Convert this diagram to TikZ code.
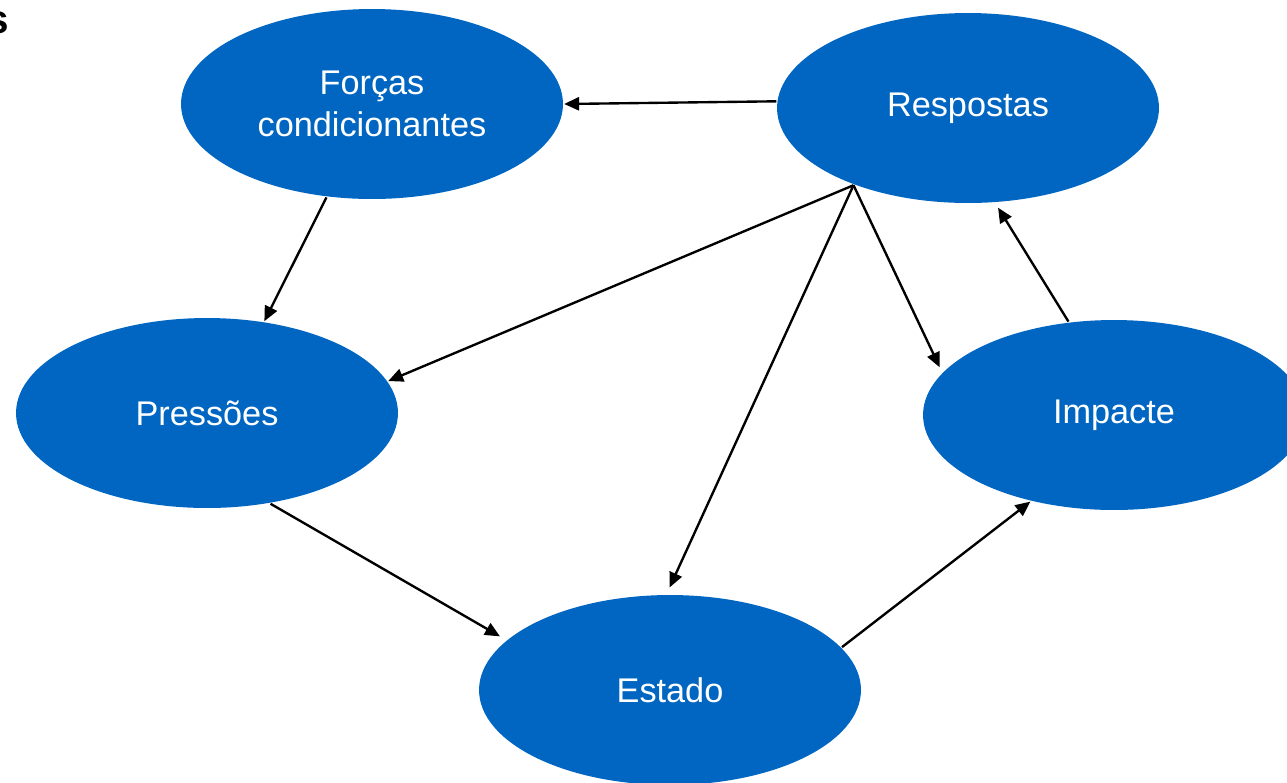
\documentclass[tikz,border=0pt]{standalone}
\usepackage{fontspec}
\setmainfont{Liberation Sans}
\usetikzlibrary{arrows.meta,shapes.geometric}
\definecolor{elblue}{HTML}{0066C2}

\begin{document}
\begin{tikzpicture}[x=0.02cm, y=-0.02cm, ->, >={Triangle[length=8.5pt,width=7.5pt]}, line width=1.35pt]
	\tikzstyle{every node}=[font=\fontsize{19.5}{24}\selectfont]
	\tikzstyle{elem}=[ellipse,fill=elblue,text=white,inner sep=0pt,minimum width=7.64cm,minimum height=3.8cm,align=center]
	\clip (0,0) rectangle (1287,782);
	\node[anchor=base east,text=black,inner sep=0pt,font=\fontsize{23}{28}\bfseries] (titulo) at (10,33) {s};
	\node[elem]    (forcas)  at (372,104)  {For\c{c}as\\condicionantes};
	\node[elem]    (resp)    at (968,108)  {Respostas};
	\node[elem]    (press)   at (207,413)  {Press\~{o}es};
	\node[elem]    (impacte) at (1114,415) {Impacte};
	\node[elem]    (estado)  at (670,690)  {Estado};
	\path
	(resp.178)     edge (forcas.0)
	(forcas.244)   edge (press.58)
	(resp.214)     edge (press.10)
	(resp.214)     edge[shorten >=4pt] (estado.92)
	(resp.214)     edge[shorten >=3pt] (impacte.166)
	(impacte.116)  edge[shorten >=3pt] (resp.286)
	(press.305)    edge[shorten >=4pt] (estado.163)
	(estado.14)    edge (impacte.226);
\end{tikzpicture}
\end{document}
